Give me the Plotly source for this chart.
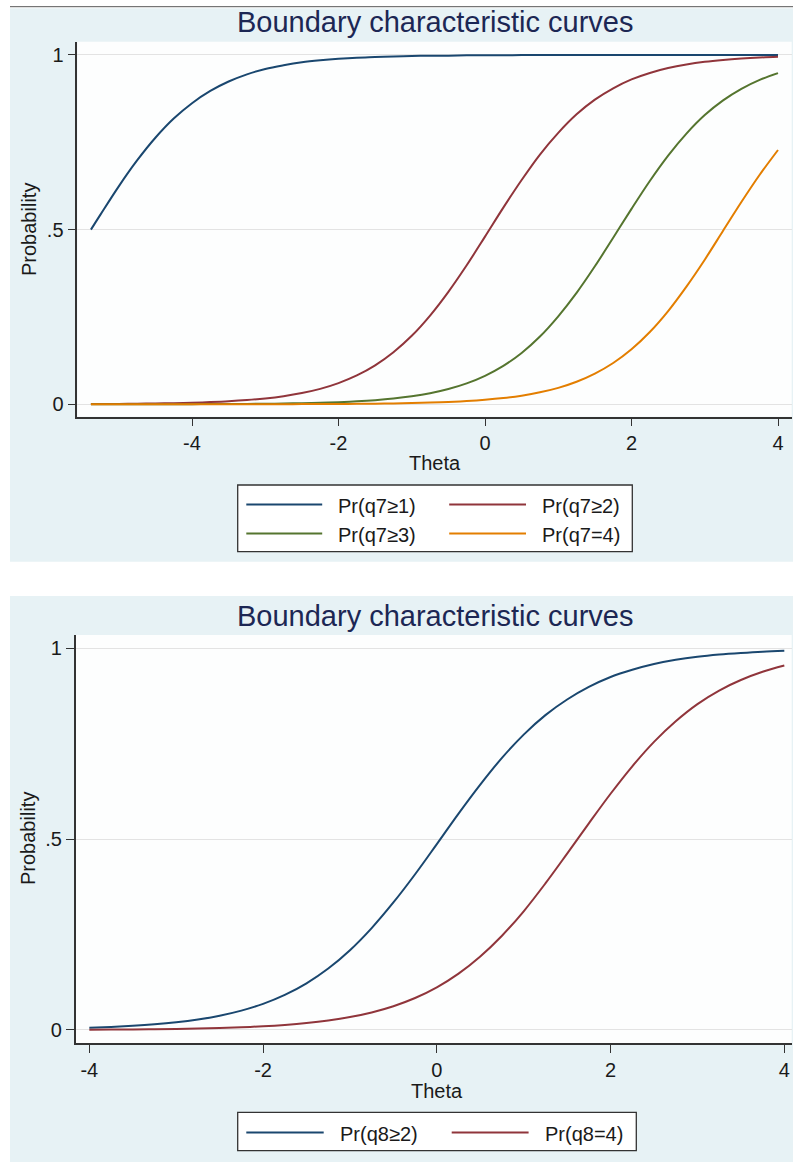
import plotly.graph_objects as go

# ---------------- data ----------------
theta_q7 = [-5.38, -5.25, -5.0, -4.75, -4.5, -4.25, -4.0, -3.75, -3.5, -3.25, -3.0,
            -2.75, -2.5, -2.25, -2.0, -1.75, -1.5, -1.25, -1.0, -0.75, -0.5, -0.25,
            0.0, 0.25, 0.5, 0.75, 1.0, 1.25, 1.5, 1.75, 2.0, 2.25, 2.5, 2.75, 3.0,
            3.25, 3.5, 3.75, 4.0]
pr_q7_ge1 = [0.5, 0.543, 0.624, 0.698, 0.763, 0.818, 0.862, 0.897, 0.924, 0.9445, 0.960,
             0.9706, 0.979, 0.9847, 0.989, 0.9921, 0.994, 0.9959, 0.997, 0.9979, 0.998, 0.9989,
             0.9992, 0.9994, 0.9996, 0.9997, 0.9998, 0.9998, 0.9999, 0.9999, 0.9999, 0.9999,
             1.0, 1.0, 1.0, 1.0, 1.0, 1.0, 1.0]
pr_q7_ge2 = [0.0007, 0.0009, 0.0012, 0.0017, 0.0023, 0.0032, 0.0045, 0.0063, 0.0087, 0.0121,
             0.0168, 0.0233, 0.0322, 0.0442, 0.0607, 0.0826, 0.1115, 0.149, 0.196, 0.254,
             0.322, 0.398, 0.480, 0.563, 0.642, 0.715, 0.777, 0.830, 0.872, 0.9045, 0.930,
             0.9485, 0.9625, 0.9728, 0.9804, 0.9858, 0.9898, 0.9927, 0.9947]
pr_q7_ge3 = [0.0001, 0.0001, 0.0001, 0.0002, 0.0002, 0.0003, 0.0004, 0.0006, 0.0008, 0.0012,
             0.0016, 0.0023, 0.0032, 0.0044, 0.0062, 0.0086, 0.0119, 0.0166, 0.0230, 0.0317,
             0.0437, 0.0599, 0.0816, 0.110, 0.147, 0.194, 0.252, 0.319, 0.395, 0.4768, 0.5595,
             0.6393, 0.712, 0.775, 0.828, 0.870, 0.903, 0.9287, 0.948]
pr_q7_eq4 = [0.0, 0.0, 0.0, 0.0, 0.0, 0.0, 0.0001, 0.0001, 0.0001, 0.0002, 0.0002, 0.0003,
             0.0005, 0.0007, 0.0009, 0.0013, 0.0018, 0.0025, 0.0035, 0.0048, 0.0067, 0.0093,
             0.0129, 0.0179, 0.0248, 0.0343, 0.0471, 0.0646, 0.0879, 0.1183, 0.1576, 0.207,
             0.267, 0.337, 0.414, 0.4967, 0.579, 0.657, 0.728]
names_q7 = ["Pr(q7\u22651)", "Pr(q7\u22652)", "Pr(q7\u22653)", "Pr(q7=4)"]

theta_q8 = [-4.0, -3.75, -3.5, -3.25, -3.0, -2.75, -2.5, -2.25, -2.0, -1.75, -1.5, -1.25,
            -1.0, -0.75, -0.5, -0.25, 0.0, 0.25, 0.5, 0.75, 1.0, 1.25, 1.5, 1.75, 2.0,
            2.25, 2.5, 2.75, 3.0, 3.25, 3.5, 3.75, 4.0]
pr_q8_ge2 = [0.0056, 0.0078, 0.0107, 0.0146, 0.0200, 0.0274, 0.0373, 0.0506, 0.0684, 0.0919,
             0.1223, 0.161, 0.209, 0.267, 0.334, 0.408, 0.487, 0.567, 0.643, 0.713, 0.774,
             0.825, 0.866, 0.899, 0.925, 0.944, 0.959, 0.970, 0.978, 0.9838, 0.988, 0.9914,
             0.9937]
pr_q8_eq4 = [0.0008, 0.0010, 0.0014, 0.0020, 0.0027, 0.0037, 0.0051, 0.0070, 0.0096, 0.0132,
             0.0181, 0.0248, 0.0338, 0.0459, 0.0622, 0.0836, 0.1116, 0.1475, 0.1925, 0.247,
             0.311, 0.384, 0.462, 0.5414, 0.619, 0.691, 0.755, 0.809, 0.854, 0.8895, 0.917,
             0.9385, 0.955]
names_q8 = ["Pr(q8\u22652)", "Pr(q8=4)"]

title_text = "Boundary characteristic curves"
x_title = "Theta"
y_title = "Probability"
x_ticks = [-4, -2, 0, 2, 4]
x_ticktext = ["-4", "-2", "0", "2", "4"]
y_ticks = [0, 0.5, 1]
y_ticktext = ["0", ".5", "1"]

# ---------------- styling ----------------
W, H = 793, 1163
FONT = "Liberation Sans, Arial, sans-serif"
colors = ["#1a476f", "#90353b", "#55752f", "#e37e00"]
PANEL = "#e7f2f5"
AXC = "#333333"
TXT = "#1a1a1a"
TITLEC = "#1c2754"


def px(x):
    return x / W


def py(y):
    return 1 - y / H


fig = go.Figure()
for ys, nm, c in zip([pr_q7_ge1, pr_q7_ge2, pr_q7_ge3, pr_q7_eq4], names_q7, colors):
    fig.add_trace(go.Scatter(x=theta_q7, y=ys, name=nm, mode="lines",
                             line=dict(color=c, width=2, shape="spline", smoothing=1.0),
                             xaxis="x", yaxis="y", showlegend=False))
for ys, nm, c in zip([pr_q8_ge2, pr_q8_eq4], names_q8, colors):
    fig.add_trace(go.Scatter(x=theta_q8, y=ys, name=nm, mode="lines",
                             line=dict(color=c, width=2, shape="spline", smoothing=1.0),
                             xaxis="x2", yaxis="y2", showlegend=False))

axis_common = dict(ticks="outside", ticklen=8, tickwidth=1.2, tickcolor=AXC,
                   showline=True, linecolor=AXC, linewidth=1.5, zeroline=False,
                   tickfont=dict(family=FONT, size=20, color=TXT))

top = dict(l=77.3, r=791.7, t=41.7, b=416.7)
bot = dict(l=75.7, r=791.7, t=635.0, b=1043.3)

fig.update_layout(
    width=W, height=H, margin=dict(l=0, r=0, t=0, b=0),
    paper_bgcolor="white", plot_bgcolor="rgba(0,0,0,0)", showlegend=False,
    xaxis=dict(domain=[px(top["l"]), px(top["r"])], range=[-5.566, 4.187], anchor="y",
               tickvals=x_ticks, ticktext=x_ticktext, showgrid=False, ticklabelstandoff=0,
               **axis_common),
    yaxis=dict(domain=[py(top["b"]), py(top["t"])], range=[-0.0355, 1.038], anchor="x",
               tickvals=y_ticks, ticktext=y_ticktext, showgrid=True, gridcolor="#e3e3e3",
               gridwidth=1, **axis_common),
    xaxis2=dict(domain=[px(bot["l"]), px(bot["r"])], range=[-4.157, 4.085], anchor="y2",
                tickvals=x_ticks, ticktext=x_ticktext, showgrid=False, ticklabelstandoff=0,
                **axis_common),
    yaxis2=dict(domain=[py(bot["b"]), py(bot["t"])], range=[-0.035, 1.035], anchor="x2",
                tickvals=y_ticks, ticktext=y_ticktext, showgrid=True, gridcolor="#e3e3e3",
                gridwidth=1, **axis_common),
)

shapes = []


def rect(x0, y0, x1, y1, fill, line_color=None, lw=0):
    shapes.append(dict(type="rect", xref="paper", yref="paper", layer="below",
                       x0=px(x0), x1=px(x1), y0=py(y1), y1=py(y0), fillcolor=fill,
                       line=dict(color=line_color or fill, width=lw)))


# background panels
rect(10, 8.3, 793, 561.7, PANEL)
rect(10, 596, 793, 1162, PANEL)
shapes.append(dict(type="line", xref="paper", yref="paper", layer="below",
                   x0=px(10), x1=px(793), y0=py(6.7), y1=py(6.7),
                   line=dict(color="#555555", width=1)))
# plot areas
rect(top["l"], top["t"], top["r"], top["b"], "#fdfefe")
rect(bot["l"], bot["t"], bot["r"], bot["b"], "#fdfefe")

annotations = []


def text(x, y, s, size=20, color=TXT, xanchor="center", angle=0):
    annotations.append(dict(xref="paper", yref="paper", x=px(x), y=py(y), text=s,
                            showarrow=False, xanchor=xanchor, yanchor="middle",
                            textangle=angle, font=dict(family=FONT, size=size, color=color)))


# titles
text(435, 22, title_text, size=29, color=TITLEC)
text(436, 616, title_text, size=29, color=TITLEC)
# axis titles
text(434.5, 463, x_title)
text(436.5, 1091, x_title)
text(29, 229, y_title, angle=-90)
text(28, 839, y_title, angle=-90)

# legend boxes
shapes.append(dict(type="rect", xref="paper", yref="paper", layer="below",
                   x0=px(237.7), x1=px(632.3), y0=py(551.7), y1=py(485),
                   fillcolor="white", line=dict(color=AXC, width=1.3)))
shapes.append(dict(type="rect", xref="paper", yref="paper", layer="below",
                   x0=px(237.7), x1=px(636.3), y0=py(1150.7), y1=py(1112.3),
                   fillcolor="white", line=dict(color=AXC, width=1.3)))

leg_top_cols = [(246.3, 322.2, 336.4), (449.2, 526.0, 539.7)]
leg_top_rows = [504.5, 533.5]
for i, nm in enumerate(names_q7):
    r, c = divmod(i, 2)
    l0, l1, tx = leg_top_cols[c]
    yy = leg_top_rows[r]
    shapes.append(dict(type="line", xref="paper", yref="paper", x0=px(l0), x1=px(l1),
                       y0=py(yy), y1=py(yy), line=dict(color=colors[i], width=2)))
    text(tx, yy + 1, nm, xanchor="left")

leg_bot_cols = [(246.3, 323.7, 337.9), (451.7, 528.6, 542.7)]
for i, nm in enumerate(names_q8):
    l0, l1, tx = leg_bot_cols[i]
    yy = 1132.5
    shapes.append(dict(type="line", xref="paper", yref="paper", x0=px(l0), x1=px(l1),
                       y0=py(yy), y1=py(yy), line=dict(color=colors[i], width=2)))
    text(tx, yy + 1, nm, xanchor="left")

fig.update_layout(shapes=shapes, annotations=annotations)
fig.write_html("out.html")
